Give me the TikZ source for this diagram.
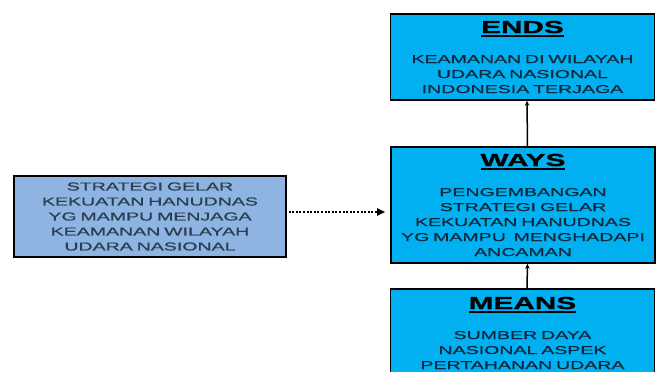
\documentclass[tikz,border=0pt]{standalone}
\usepackage{fontspec}
\usetikzlibrary{arrows.meta}
\newfontfamily\boxfont[FakeStretch=1.7,FakeBold=0.8]{Liberation Sans}
\definecolor{boxblue}{RGB}{0,176,240}
\definecolor{lightblue}{RGB}{141,180,226}
\definecolor{boxtext}{RGB}{15,40,60}
\newcommand\judul[1]{\leavevmode\vtop{\hbox{\color{black}\fontsize{17.5}{20}\selectfont\bfseries #1}\kern1.5pt\color{black}\hrule height 1.8pt}}

\begin{document}
\begin{tikzpicture}[x=1pt,y=1pt]
            \clip (0,0) rectangle (659,372);
            \begin{scope}[every node/.style={draw=black,line width=1.6pt,fill=boxblue,text=boxtext,text width=264pt,align=center,inner sep=0pt,font=\boxfont\fontsize{11.5}{15}\selectfont}]
                \node[minimum height=86pt] (ends) at (522.5,315) {\judul{ENDS}\\[15pt] KEAMANAN DI WILAYAH\\ UDARA NASIONAL\\ INDONESIA TERJAGA};
                \node[minimum height=116pt] (ways) at (523,167) {\judul{WAYS}\\[15pt] PENGEMBANGAN\\ STRATEGI GELAR\\ KEKUATAN HANUDNAS\\ YG MAMPU\ \ MENGHADAPI\\ ANCAMAN};
                \node[minimum height=88pt] (means) at (522.5,39) {\judul{MEANS}\\[15pt] SUMBER DAYA\\ NASIONAL ASPEK\\ PERTAHANAN UDARA};
            \end{scope}
            \node[draw=black,line width=1.2pt,fill=lightblue,text=boxtext!75!gray,text width=272pt,minimum height=81pt,align=center,inner sep=0pt,font=\boxfont\fontsize{11.5}{15}\selectfont] (strategi) at (150,155.5) {STRATEGI GELAR\\ KEKUATAN HANUDNAS\\ YG MAMPU MENJAGA\\ KEAMANAN WILAYAH\\ UDARA NASIONAL};
            \draw[line width=1.5pt,-{Stealth[length=5pt,width=4.5pt]}] ([xshift=4.5pt]ways.north) -- ([xshift=4.5pt]ends.south);
            \draw[line width=1.5pt,-{Stealth[length=5pt,width=4.5pt]}] ([xshift=4.5pt]means.north) -- ([xshift=4.5pt]ways.south);
            \draw[line width=1.8pt,dash pattern=on 2pt off 1.6pt,-{Triangle[length=8pt,width=7pt]},shorten <=2pt,shorten >=5pt] ([yshift=4.5pt]strategi.east) -- ([yshift=4.5pt]strategi.east -| ways.west);
        \end{tikzpicture}
\end{document}
